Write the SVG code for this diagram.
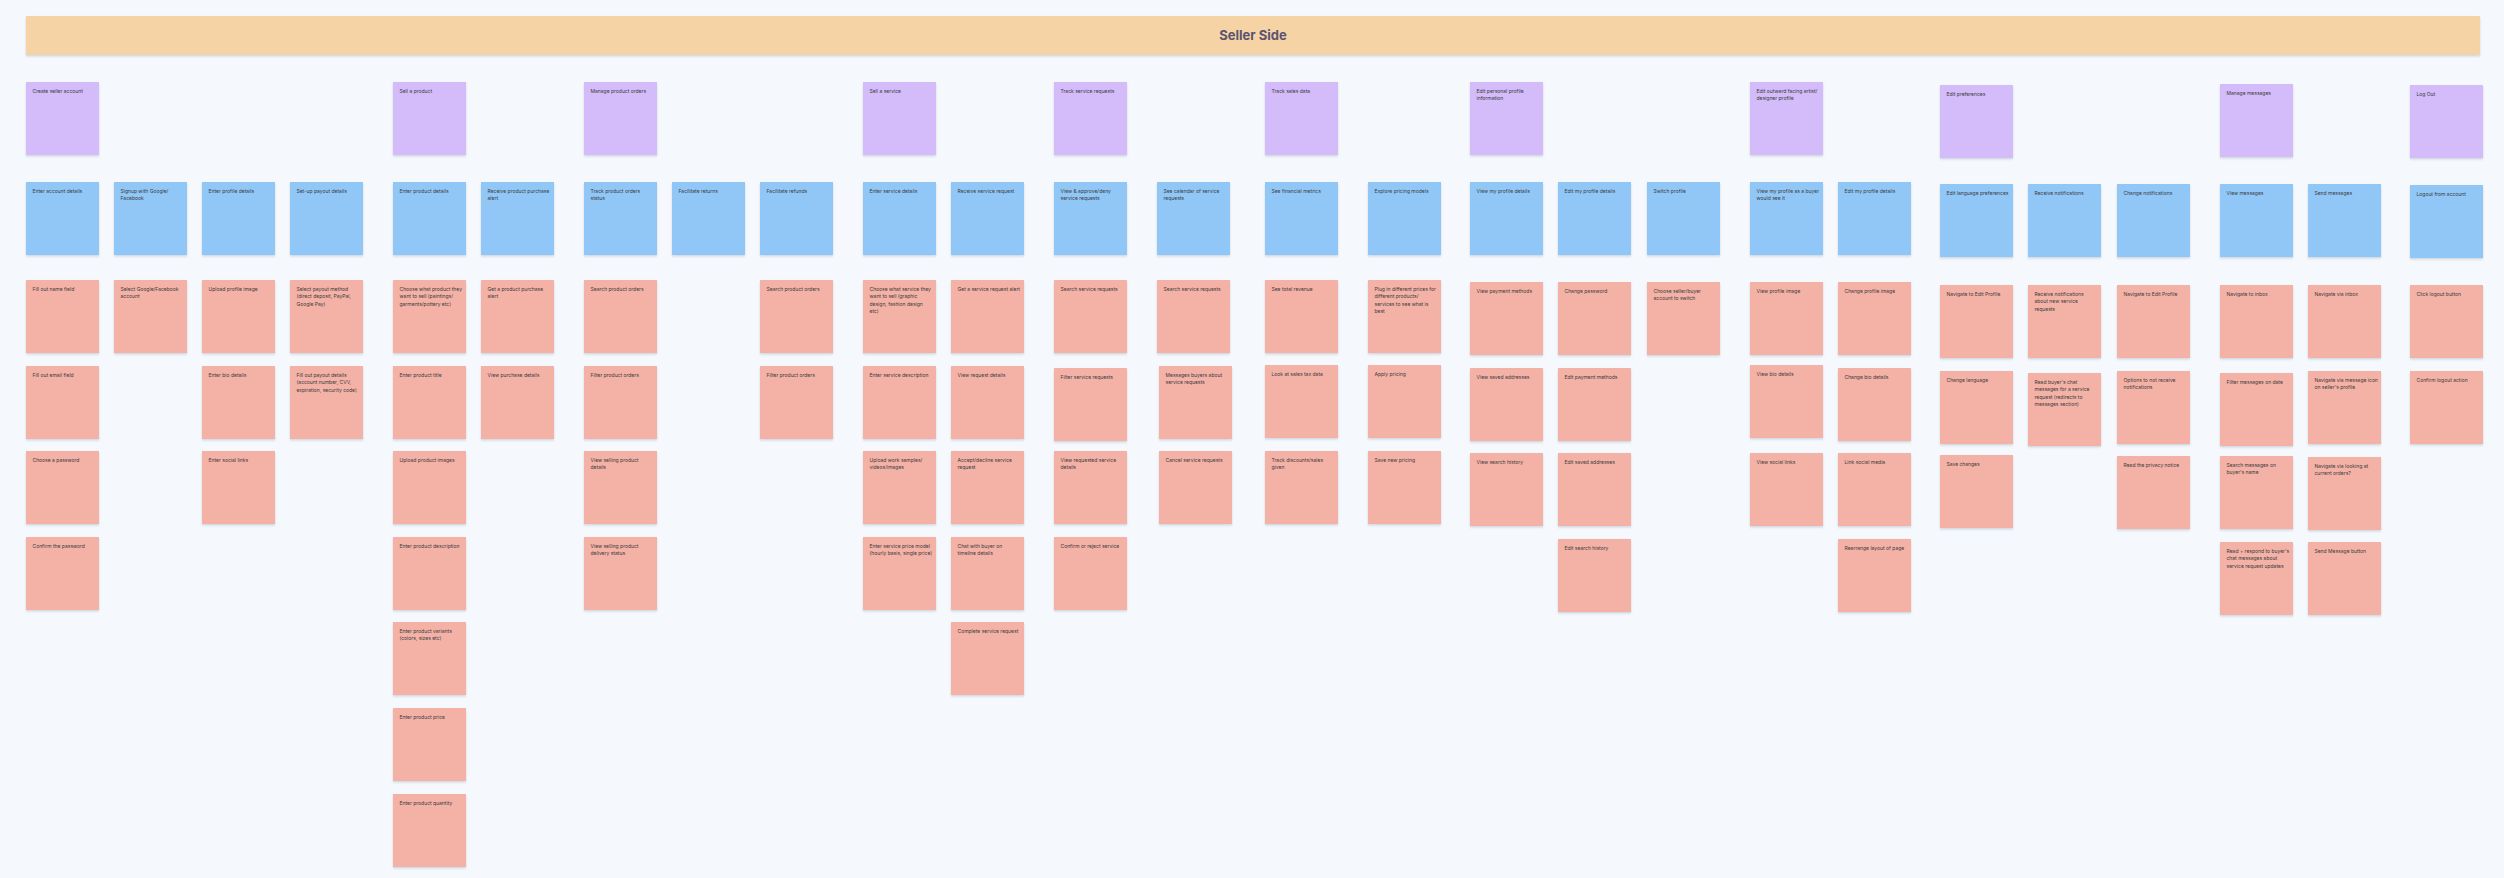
<svg xmlns="http://www.w3.org/2000/svg" width="2504" height="878" viewBox="0 0 2504 878">
<defs>
<filter id="sh" x="-10%" y="-10%" width="120%" height="130%"><feDropShadow dx="0" dy="1.5" stdDeviation="0.9" flood-color="#8a94a6" flood-opacity="0.35"/></filter>
<style>
.p{fill:#d4bbf9;filter:url(#sh)}
.b{fill:#91c7f7;filter:url(#sh)}
.r{fill:#f4b2a6;filter:url(#sh)}
.t{font-family:Inter,"Liberation Sans",sans-serif;font-size:5px;fill:#3a3a40}
.h{font-family:Inter,"Liberation Sans",sans-serif;font-size:13px;font-weight:700;fill:#5b5470}
</style>
</defs>
<rect width="2504" height="878" fill="#f5f9fd"/>
<g id="header"><rect x="26" y="16" width="2454" height="39" fill="#f6d3a5" filter="url(#sh)"/><text class="h" x="1253" y="40" text-anchor="middle">Seller Side</text></g>
<g id="connectors"/>

<!-- Purple -->
<g id="p1" transform="translate(26,82)"><rect class="p" width="73" height="73"/><text class="t" x="6.5" y="11">Create seller account</text></g>
<g id="p5" transform="translate(393,82)"><rect class="p" width="73" height="73"/><text class="t" x="6.5" y="11">Sell a product</text></g>
<g id="p7" transform="translate(584,82)"><rect class="p" width="73" height="73"/><text class="t" x="6.5" y="11">Manage product orders</text></g>
<g id="p10" transform="translate(863,82)"><rect class="p" width="73" height="73"/><text class="t" x="6.5" y="11">Sell a service</text></g>
<g id="p12" transform="translate(1054,82)"><rect class="p" width="73" height="73"/><text class="t" x="6.5" y="11">Track service requests</text></g>
<g id="p14" transform="translate(1265,82)"><rect class="p" width="73" height="73"/><text class="t" x="6.5" y="11">Track sales data</text></g>
<g id="p16" transform="translate(1470,82)"><rect class="p" width="73" height="73"/><text class="t" y="11"><tspan x="6.5">Edit personal profile</tspan><tspan x="6.5" dy="7.3">information</tspan></text></g>
<g id="p19" transform="translate(1750,82)"><rect class="p" width="73" height="73"/><text class="t" y="11"><tspan x="6.5">Edit outward facing artist/</tspan><tspan x="6.5" dy="7.3">designer profile</tspan></text></g>
<g id="p21" transform="translate(1940,85)"><rect class="p" width="73" height="73"/><text class="t" x="6.5" y="11">Edit preferences</text></g>
<g id="p24" transform="translate(2220,84)"><rect class="p" width="73" height="73"/><text class="t" x="6.5" y="11">Manage messages</text></g>
<g id="p26" transform="translate(2410,85)"><rect class="p" width="73" height="73"/><text class="t" x="6.5" y="11">Log Out</text></g>

<!-- Blue -->
<g id="b1" transform="translate(26,182)"><rect class="b" width="73" height="73"/><text class="t" x="6.5" y="11">Enter account details</text></g>
<g id="b2" transform="translate(114,182)"><rect class="b" width="73" height="73"/><text class="t" y="11"><tspan x="6.5">Signup with Google/</tspan><tspan x="6.5" dy="7.3">Facebook</tspan></text></g>
<g id="b3" transform="translate(202,182)"><rect class="b" width="73" height="73"/><text class="t" x="6.5" y="11">Enter profile details</text></g>
<g id="b4" transform="translate(290,182)"><rect class="b" width="73" height="73"/><text class="t" x="6.5" y="11">Set-up payout details</text></g>
<g id="b5" transform="translate(393,182)"><rect class="b" width="73" height="73"/><text class="t" x="6.5" y="11">Enter product details</text></g>
<g id="b6" transform="translate(481,182)"><rect class="b" width="73" height="73"/><text class="t" y="11"><tspan x="6.5">Receive product purchase</tspan><tspan x="6.5" dy="7.3">alert</tspan></text></g>
<g id="b7" transform="translate(584,182)"><rect class="b" width="73" height="73"/><text class="t" y="11"><tspan x="6.5">Track product orders</tspan><tspan x="6.5" dy="7.3">status</tspan></text></g>
<g id="b8" transform="translate(672,182)"><rect class="b" width="73" height="73"/><text class="t" x="6.5" y="11">Facilitate returns</text></g>
<g id="b9" transform="translate(760,182)"><rect class="b" width="73" height="73"/><text class="t" x="6.5" y="11">Facilitate refunds</text></g>
<g id="b10" transform="translate(863,182)"><rect class="b" width="73" height="73"/><text class="t" x="6.5" y="11">Enter service details</text></g>
<g id="b11" transform="translate(951,182)"><rect class="b" width="73" height="73"/><text class="t" x="6.5" y="11">Receive service request</text></g>
<g id="b12" transform="translate(1054,182)"><rect class="b" width="73" height="73"/><text class="t" y="11"><tspan x="6.5">View &amp; approve/deny</tspan><tspan x="6.5" dy="7.3">service requests</tspan></text></g>
<g id="b13" transform="translate(1157,182)"><rect class="b" width="73" height="73"/><text class="t" y="11"><tspan x="6.5">See calendar of service</tspan><tspan x="6.5" dy="7.3">requests</tspan></text></g>
<g id="b14" transform="translate(1265,182)"><rect class="b" width="73" height="73"/><text class="t" x="6.5" y="11">See financial metrics</text></g>
<g id="b15" transform="translate(1368,182)"><rect class="b" width="73" height="73"/><text class="t" x="6.5" y="11">Explore pricing models</text></g>
<g id="b16" transform="translate(1470,182)"><rect class="b" width="73" height="73"/><text class="t" x="6.5" y="11">View my profile details</text></g>
<g id="b17" transform="translate(1558,182)"><rect class="b" width="73" height="73"/><text class="t" x="6.5" y="11">Edit my profile details</text></g>
<g id="b18" transform="translate(1647,182)"><rect class="b" width="73" height="73"/><text class="t" x="6.5" y="11">Switch profile</text></g>
<g id="b19" transform="translate(1750,182)"><rect class="b" width="73" height="73"/><text class="t" y="11"><tspan x="6.5">View my profile as a buyer</tspan><tspan x="6.5" dy="7.3">would see it</tspan></text></g>
<g id="b20" transform="translate(1838,182)"><rect class="b" width="73" height="73"/><text class="t" x="6.5" y="11">Edit my profile details</text></g>
<g id="b21" transform="translate(1940,184)"><rect class="b" width="73" height="73"/><text class="t" x="6.5" y="11">Edit language preferences</text></g>
<g id="b22" transform="translate(2028,184)"><rect class="b" width="73" height="73"/><text class="t" x="6.5" y="11">Receive notifications</text></g>
<g id="b23" transform="translate(2117,184)"><rect class="b" width="73" height="73"/><text class="t" x="6.5" y="11">Change notifications</text></g>
<g id="b24" transform="translate(2220,184)"><rect class="b" width="73" height="73"/><text class="t" x="6.5" y="11">View messages</text></g>
<g id="b25" transform="translate(2308,184)"><rect class="b" width="73" height="73"/><text class="t" x="6.5" y="11">Send messages</text></g>
<g id="b26" transform="translate(2410,185)"><rect class="b" width="73" height="73"/><text class="t" x="6.5" y="11">Logout from account</text></g>

<!-- Red: column 1 -->
<g id="r1a" transform="translate(26,280)"><rect class="r" width="73" height="73"/><text class="t" x="6.5" y="11">Fill out name field</text></g>
<g id="r1b" transform="translate(26,366)"><rect class="r" width="73" height="73"/><text class="t" x="6.5" y="11">Fill out email field</text></g>
<g id="r1c" transform="translate(26,451)"><rect class="r" width="73" height="73"/><text class="t" x="6.5" y="11">Choose a password</text></g>
<g id="r1d" transform="translate(26,537)"><rect class="r" width="73" height="73"/><text class="t" x="6.5" y="11">Confirm the password</text></g>
<g id="r2a" transform="translate(114,280)"><rect class="r" width="73" height="73"/><text class="t" y="11"><tspan x="6.5">Select Google/Facebook</tspan><tspan x="6.5" dy="7.3">account</tspan></text></g>
<g id="r3a" transform="translate(202,280)"><rect class="r" width="73" height="73"/><text class="t" x="6.5" y="11">Upload profile image</text></g>
<g id="r3b" transform="translate(202,366)"><rect class="r" width="73" height="73"/><text class="t" x="6.5" y="11">Enter bio details</text></g>
<g id="r3c" transform="translate(202,451)"><rect class="r" width="73" height="73"/><text class="t" x="6.5" y="11">Enter social links</text></g>
<g id="r4a" transform="translate(290,280)"><rect class="r" width="73" height="73"/><text class="t" y="11"><tspan x="6.5">Select payout method</tspan><tspan x="6.5" dy="7.3">(direct deposit, PayPal,</tspan><tspan x="6.5" dy="7.3">Google Pay)</tspan></text></g>
<g id="r4b" transform="translate(290,366)"><rect class="r" width="73" height="73"/><text class="t" y="11"><tspan x="6.5">Fill out payout details</tspan><tspan x="6.5" dy="7.3">(account number, CVV,</tspan><tspan x="6.5" dy="7.3">expiration, security code)</tspan></text></g>

<g id="r5a" transform="translate(393,280)"><rect class="r" width="73" height="73"/><text class="t" y="11"><tspan x="6.5">Choose what product they</tspan><tspan x="6.5" dy="7.3">want to sell (paintings/</tspan><tspan x="6.5" dy="7.3">garments/pottery etc)</tspan></text></g>
<g id="r5b" transform="translate(393,366)"><rect class="r" width="73" height="73"/><text class="t" x="6.5" y="11">Enter product title</text></g>
<g id="r5c" transform="translate(393,451)"><rect class="r" width="73" height="73"/><text class="t" x="6.5" y="11">Upload product images</text></g>
<g id="r5d" transform="translate(393,537)"><rect class="r" width="73" height="73"/><text class="t" x="6.5" y="11">Enter product description</text></g>
<g id="r5e" transform="translate(393,622)"><rect class="r" width="73" height="73"/><text class="t" y="11"><tspan x="6.5">Enter product variants</tspan><tspan x="6.5" dy="7.3">(colors, sizes etc)</tspan></text></g>
<g id="r5f" transform="translate(393,708)"><rect class="r" width="73" height="73"/><text class="t" x="6.5" y="11">Enter product price</text></g>
<g id="r5g" transform="translate(393,794)"><rect class="r" width="73" height="73"/><text class="t" x="6.5" y="11">Enter product quantity</text></g>
<g id="r6a" transform="translate(481,280)"><rect class="r" width="73" height="73"/><text class="t" y="11"><tspan x="6.5">Get a product purchase</tspan><tspan x="6.5" dy="7.3">alert</tspan></text></g>
<g id="r6b" transform="translate(481,366)"><rect class="r" width="73" height="73"/><text class="t" x="6.5" y="11">View purchase details</text></g>
<g id="r7a" transform="translate(584,280)"><rect class="r" width="73" height="73"/><text class="t" x="6.5" y="11">Search product orders</text></g>
<g id="r7b" transform="translate(584,366)"><rect class="r" width="73" height="73"/><text class="t" x="6.5" y="11">Filter product orders</text></g>
<g id="r7c" transform="translate(584,451)"><rect class="r" width="73" height="73"/><text class="t" y="11"><tspan x="6.5">View selling product</tspan><tspan x="6.5" dy="7.3">details</tspan></text></g>
<g id="r7d" transform="translate(584,537)"><rect class="r" width="73" height="73"/><text class="t" y="11"><tspan x="6.5">View selling product</tspan><tspan x="6.5" dy="7.3">delivery status</tspan></text></g>
<g id="r9a" transform="translate(760,280)"><rect class="r" width="73" height="73"/><text class="t" x="6.5" y="11">Search product orders</text></g>
<g id="r9b" transform="translate(760,366)"><rect class="r" width="73" height="73"/><text class="t" x="6.5" y="11">Filter product orders</text></g>

<g id="r10a" transform="translate(863,280)"><rect class="r" width="73" height="73"/><text class="t" y="11"><tspan x="6.5">Choose what service they</tspan><tspan x="6.5" dy="7.3">want to sell (graphic</tspan><tspan x="6.5" dy="7.3">design, fashion design</tspan><tspan x="6.5" dy="7.3">etc)</tspan></text></g>
<g id="r10b" transform="translate(863,366)"><rect class="r" width="73" height="73"/><text class="t" x="6.5" y="11">Enter service description</text></g>
<g id="r10c" transform="translate(863,451)"><rect class="r" width="73" height="73"/><text class="t" y="11"><tspan x="6.5">Upload work samples/</tspan><tspan x="6.5" dy="7.3">videos/images</tspan></text></g>
<g id="r10d" transform="translate(863,537)"><rect class="r" width="73" height="73"/><text class="t" y="11"><tspan x="6.5">Enter service price model</tspan><tspan x="6.5" dy="7.3">(hourly basis, single price)</tspan></text></g>
<g id="r11a" transform="translate(951,280)"><rect class="r" width="73" height="73"/><text class="t" x="6.5" y="11">Get a service request alert</text></g>
<g id="r11b" transform="translate(951,366)"><rect class="r" width="73" height="73"/><text class="t" x="6.5" y="11">View request details</text></g>
<g id="r11c" transform="translate(951,451)"><rect class="r" width="73" height="73"/><text class="t" y="11"><tspan x="6.5">Accept/decline service</tspan><tspan x="6.5" dy="7.3">request</tspan></text></g>
<g id="r11d" transform="translate(951,537)"><rect class="r" width="73" height="73"/><text class="t" y="11"><tspan x="6.5">Chat with buyer on</tspan><tspan x="6.5" dy="7.3">timeline details</tspan></text></g>
<g id="r11e" transform="translate(951,622)"><rect class="r" width="73" height="73"/><text class="t" x="6.5" y="11">Complete service request</text></g>
<g id="r12a" transform="translate(1054,280)"><rect class="r" width="73" height="73"/><text class="t" x="6.5" y="11">Search service requests</text></g>
<g id="r12b" transform="translate(1054,368)"><rect class="r" width="73" height="73"/><text class="t" x="6.5" y="11">Filter service requests</text></g>
<g id="r12c" transform="translate(1054,451)"><rect class="r" width="73" height="73"/><text class="t" y="11"><tspan x="6.5">View requested service</tspan><tspan x="6.5" dy="7.3">details</tspan></text></g>
<g id="r12d" transform="translate(1054,537)"><rect class="r" width="73" height="73"/><text class="t" x="6.5" y="11">Confirm or reject service</text></g>
<g id="r13a" transform="translate(1157,280)"><rect class="r" width="73" height="73"/><text class="t" x="6.5" y="11">Search service requests</text></g>
<g id="r13b" transform="translate(1159,366)"><rect class="r" width="73" height="73"/><text class="t" y="11"><tspan x="6.5">Messages buyers about</tspan><tspan x="6.5" dy="7.3">service requests</tspan></text></g>
<g id="r13c" transform="translate(1159,451)"><rect class="r" width="73" height="73"/><text class="t" x="6.5" y="11">Cancel service requests</text></g>

<g id="r14a" transform="translate(1265,280)"><rect class="r" width="73" height="73"/><text class="t" x="6.5" y="11">See total revenue</text></g>
<g id="r14b" transform="translate(1265,365)"><rect class="r" width="73" height="73"/><text class="t" x="6.5" y="11">Look at sales tax data</text></g>
<g id="r14c" transform="translate(1265,451)"><rect class="r" width="73" height="73"/><text class="t" y="11"><tspan x="6.5">Track discounts/sales</tspan><tspan x="6.5" dy="7.3">given</tspan></text></g>
<g id="r15a" transform="translate(1368,280)"><rect class="r" width="73" height="73"/><text class="t" y="11"><tspan x="6.5">Plug in different prices for</tspan><tspan x="6.5" dy="7.3">different products/</tspan><tspan x="6.5" dy="7.3">services to see what is</tspan><tspan x="6.5" dy="7.3">best</tspan></text></g>
<g id="r15b" transform="translate(1368,365)"><rect class="r" width="73" height="73"/><text class="t" x="6.5" y="11">Apply pricing</text></g>
<g id="r15c" transform="translate(1368,451)"><rect class="r" width="73" height="73"/><text class="t" x="6.5" y="11">Save new pricing</text></g>
<g id="r16a" transform="translate(1470,282)"><rect class="r" width="73" height="73"/><text class="t" x="6.5" y="11">View payment methods</text></g>
<g id="r16b" transform="translate(1470,368)"><rect class="r" width="73" height="73"/><text class="t" x="6.5" y="11">View saved addresses</text></g>
<g id="r16c" transform="translate(1470,453)"><rect class="r" width="73" height="73"/><text class="t" x="6.5" y="11">View search history</text></g>
<g id="r17a" transform="translate(1558,282)"><rect class="r" width="73" height="73"/><text class="t" x="6.5" y="11">Change password</text></g>
<g id="r17b" transform="translate(1558,368)"><rect class="r" width="73" height="73"/><text class="t" x="6.5" y="11">Edit payment methods</text></g>
<g id="r17c" transform="translate(1558,453)"><rect class="r" width="73" height="73"/><text class="t" x="6.5" y="11">Edit saved addresses</text></g>
<g id="r17d" transform="translate(1558,539)"><rect class="r" width="73" height="73"/><text class="t" x="6.5" y="11">Edit search history</text></g>
<g id="r18a" transform="translate(1647,282)"><rect class="r" width="73" height="73"/><text class="t" y="11"><tspan x="6.5">Choose seller/buyer</tspan><tspan x="6.5" dy="7.3">account to switch</tspan></text></g>

<g id="r19a" transform="translate(1750,282)"><rect class="r" width="73" height="73"/><text class="t" x="6.5" y="11">View profile image</text></g>
<g id="r19b" transform="translate(1750,365)"><rect class="r" width="73" height="73"/><text class="t" x="6.5" y="11">View bio details</text></g>
<g id="r19c" transform="translate(1750,453)"><rect class="r" width="73" height="73"/><text class="t" x="6.5" y="11">View social links</text></g>
<g id="r20a" transform="translate(1838,282)"><rect class="r" width="73" height="73"/><text class="t" x="6.5" y="11">Change profile image</text></g>
<g id="r20b" transform="translate(1838,368)"><rect class="r" width="73" height="73"/><text class="t" x="6.5" y="11">Change bio details</text></g>
<g id="r20c" transform="translate(1838,453)"><rect class="r" width="73" height="73"/><text class="t" x="6.5" y="11">Link social media</text></g>
<g id="r20d" transform="translate(1838,539)"><rect class="r" width="73" height="73"/><text class="t" x="6.5" y="11">Rearrange layout of page</text></g>
<g id="r21a" transform="translate(1940,285)"><rect class="r" width="73" height="73"/><text class="t" x="6.5" y="11">Navigate to Edit Profile</text></g>
<g id="r21b" transform="translate(1940,371)"><rect class="r" width="73" height="73"/><text class="t" x="6.5" y="11">Change language</text></g>
<g id="r21c" transform="translate(1940,455)"><rect class="r" width="73" height="73"/><text class="t" x="6.5" y="11">Save changes</text></g>
<g id="r22a" transform="translate(2028,285)"><rect class="r" width="73" height="73"/><text class="t" y="11"><tspan x="6.5">Receive notifications</tspan><tspan x="6.5" dy="7.3">about new service</tspan><tspan x="6.5" dy="7.3">requests</tspan></text></g>
<g id="r22b" transform="translate(2028,373)"><rect class="r" width="73" height="73"/><text class="t" y="11"><tspan x="6.5">Read buyer's chat</tspan><tspan x="6.5" dy="7.3">messages for a service</tspan><tspan x="6.5" dy="7.3">request (redirects to</tspan><tspan x="6.5" dy="7.3">messages section)</tspan></text></g>
<g id="r23a" transform="translate(2117,285)"><rect class="r" width="73" height="73"/><text class="t" x="6.5" y="11">Navigate to Edit Profile</text></g>
<g id="r23b" transform="translate(2117,371)"><rect class="r" width="73" height="73"/><text class="t" y="11"><tspan x="6.5">Options to not receive</tspan><tspan x="6.5" dy="7.3">notifications</tspan></text></g>
<g id="r23c" transform="translate(2117,456)"><rect class="r" width="73" height="73"/><text class="t" x="6.5" y="11">Read the privacy notice</text></g>

<g id="r24a" transform="translate(2220,285)"><rect class="r" width="73" height="73"/><text class="t" x="6.5" y="11">Navigate to inbox</text></g>
<g id="r24b" transform="translate(2220,373)"><rect class="r" width="73" height="73"/><text class="t" x="6.5" y="11">Filter messages on date</text></g>
<g id="r24c" transform="translate(2220,456)"><rect class="r" width="73" height="73"/><text class="t" y="11"><tspan x="6.5">Search messages on</tspan><tspan x="6.5" dy="7.3">buyer's name</tspan></text></g>
<g id="r24d" transform="translate(2220,542)"><rect class="r" width="73" height="73"/><text class="t" y="11"><tspan x="6.5">Read + respond to buyer's</tspan><tspan x="6.5" dy="7.3">chat messages about</tspan><tspan x="6.5" dy="7.3">service request updates</tspan></text></g>
<g id="r25a" transform="translate(2308,285)"><rect class="r" width="73" height="73"/><text class="t" x="6.5" y="11">Navigate via inbox</text></g>
<g id="r25b" transform="translate(2308,371)"><rect class="r" width="73" height="73"/><text class="t" y="11"><tspan x="6.5">Navigate via message icon</tspan><tspan x="6.5" dy="7.3">on seller's profile</tspan></text></g>
<g id="r25c" transform="translate(2308,457)"><rect class="r" width="73" height="73"/><text class="t" y="11"><tspan x="6.5">Navigate via looking at</tspan><tspan x="6.5" dy="7.3">current orders?</tspan></text></g>
<g id="r25d" transform="translate(2308,542)"><rect class="r" width="73" height="73"/><text class="t" x="6.5" y="11">Send Message button</text></g>
<g id="r26a" transform="translate(2410,285)"><rect class="r" width="73" height="73"/><text class="t" x="6.5" y="11">Click logout button</text></g>
<g id="r26b" transform="translate(2410,371)"><rect class="r" width="73" height="73"/><text class="t" x="6.5" y="11">Confirm logout action</text></g>
</svg>
